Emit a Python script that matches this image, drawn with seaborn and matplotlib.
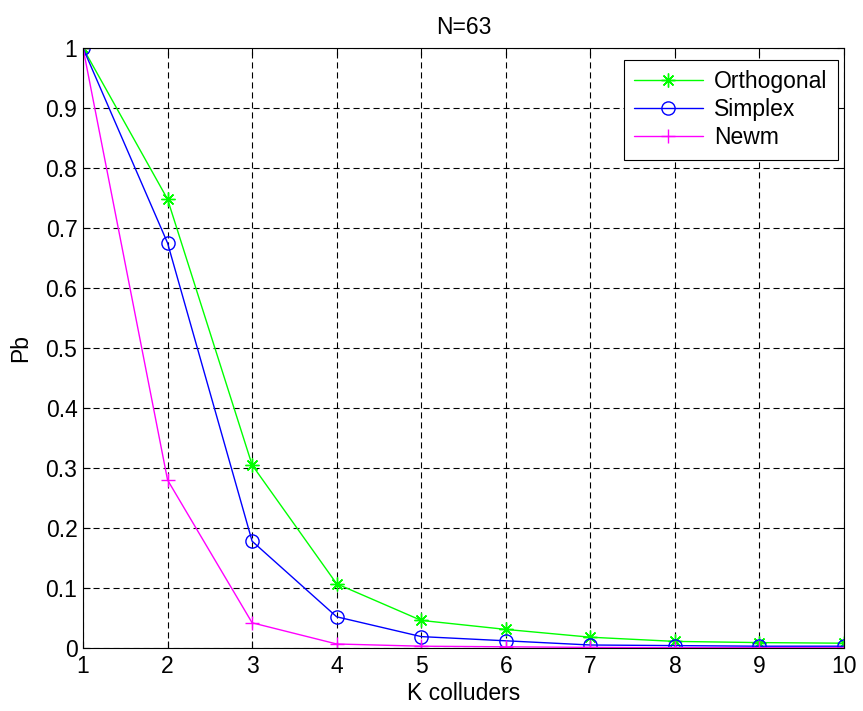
import matplotlib
matplotlib.use("Agg")
import matplotlib.pyplot as plt
import seaborn as sns
import pandas as pd

k_colluders = [1, 2, 3, 4, 5, 6, 7, 8, 9, 10]
orthogonal = [1.0, 0.748, 0.305, 0.107, 0.046, 0.031, 0.018, 0.011, 0.009, 0.008]
simplex = [1.0, 0.675, 0.178, 0.052, 0.019, 0.012, 0.005, 0.004, 0.003, 0.003]
newm = [1.0, 0.28, 0.042, 0.0067, 0.003, 0.002, 0.001, 0.0005, 0.0004, 0.0003]
series_names = ["Orthogonal", "Simplex", "Newm"]
x_ticks = [1, 2, 3, 4, 5, 6, 7, 8, 9, 10]
y_ticks = [0, 0.1, 0.2, 0.3, 0.4, 0.5, 0.6, 0.7, 0.8, 0.9, 1]
y_tick_labels = ["0", "0.1", "0.2", "0.3", "0.4", "0.5", "0.6", "0.7", "0.8", "0.9", "1"]

sns.set_theme(style="white")
plt.rcParams['font.family'] = ['Liberation Sans', 'DejaVu Sans']
for key in ["text.color", "axes.labelcolor", "xtick.color", "ytick.color"]:
    plt.rcParams[key] = "black"

FS = 16.5

fig = plt.figure(figsize=(8.63, 7.11), dpi=100)
ax = fig.add_axes([83 / 863, 1 - 648 / 711, (844 - 83) / 863, 600 / 711])

styles = {
    "Orthogonal": dict(color=(0, 1, 0), marker=(8, 2, 0), markersize=10, markeredgewidth=1.0),
    "Simplex": dict(color=(0, 0, 1), marker="o", markersize=9.5, markerfacecolor="none",
                    markeredgewidth=1.0),
    "Newm": dict(color=(1, 0, 1), marker="+", markersize=10, markeredgewidth=1.0),
}
values = {"Orthogonal": orthogonal, "Simplex": simplex, "Newm": newm}

for name in series_names:
    df = pd.DataFrame({"K": k_colluders, "Pb": values[name]})
    st = styles[name]
    sns.lineplot(data=df, x="K", y="Pb", ax=ax, label=name, linewidth=1.0,
                 color=st["color"], marker=st["marker"], markersize=st["markersize"],
                 markeredgewidth=st["markeredgewidth"], markeredgecolor=st["color"],
                 markerfacecolor=st.get("markerfacecolor", st["color"]))

ax.set_xlim(1, 10)
ax.set_ylim(0, 1)
ax.set_xticks(x_ticks)
ax.set_xticklabels([str(v) for v in x_ticks])
ax.set_yticks(y_ticks)
ax.set_yticklabels(y_tick_labels)
ax.grid(True, color="black", linestyle=(0, (5.5, 3.5)), linewidth=0.8)
ax.set_axisbelow(True)
for sp in ax.spines.values():
    sp.set_visible(True)
    sp.set_color("black")
    sp.set_linewidth(0.8)
ax.tick_params(direction="in", length=5, width=0.8, colors="black",
               labelsize=FS, top=True, right=True, bottom=True, left=True)
ax.tick_params(axis="x", pad=5)
ax.tick_params(axis="y", pad=4)
ax.set_xlabel("K colluders", fontsize=FS, labelpad=3)
ax.set_ylabel("Pb", fontsize=FS, labelpad=10)
ax.set_title("N=63", fontsize=FS, pad=10)

leg = ax.legend(loc="upper right", fontsize=FS, frameon=True, fancybox=False,
                edgecolor="black", framealpha=1, handlelength=3.0,
                handletextpad=0.5, borderpad=0.45, labelspacing=0.22,
                borderaxespad=0,
                bbox_to_anchor=((838 - 83) / (844 - 83), (648 - 60) / 600))
leg.get_frame().set_linewidth(0.8)

fig.savefig("out.png", dpi=100)
